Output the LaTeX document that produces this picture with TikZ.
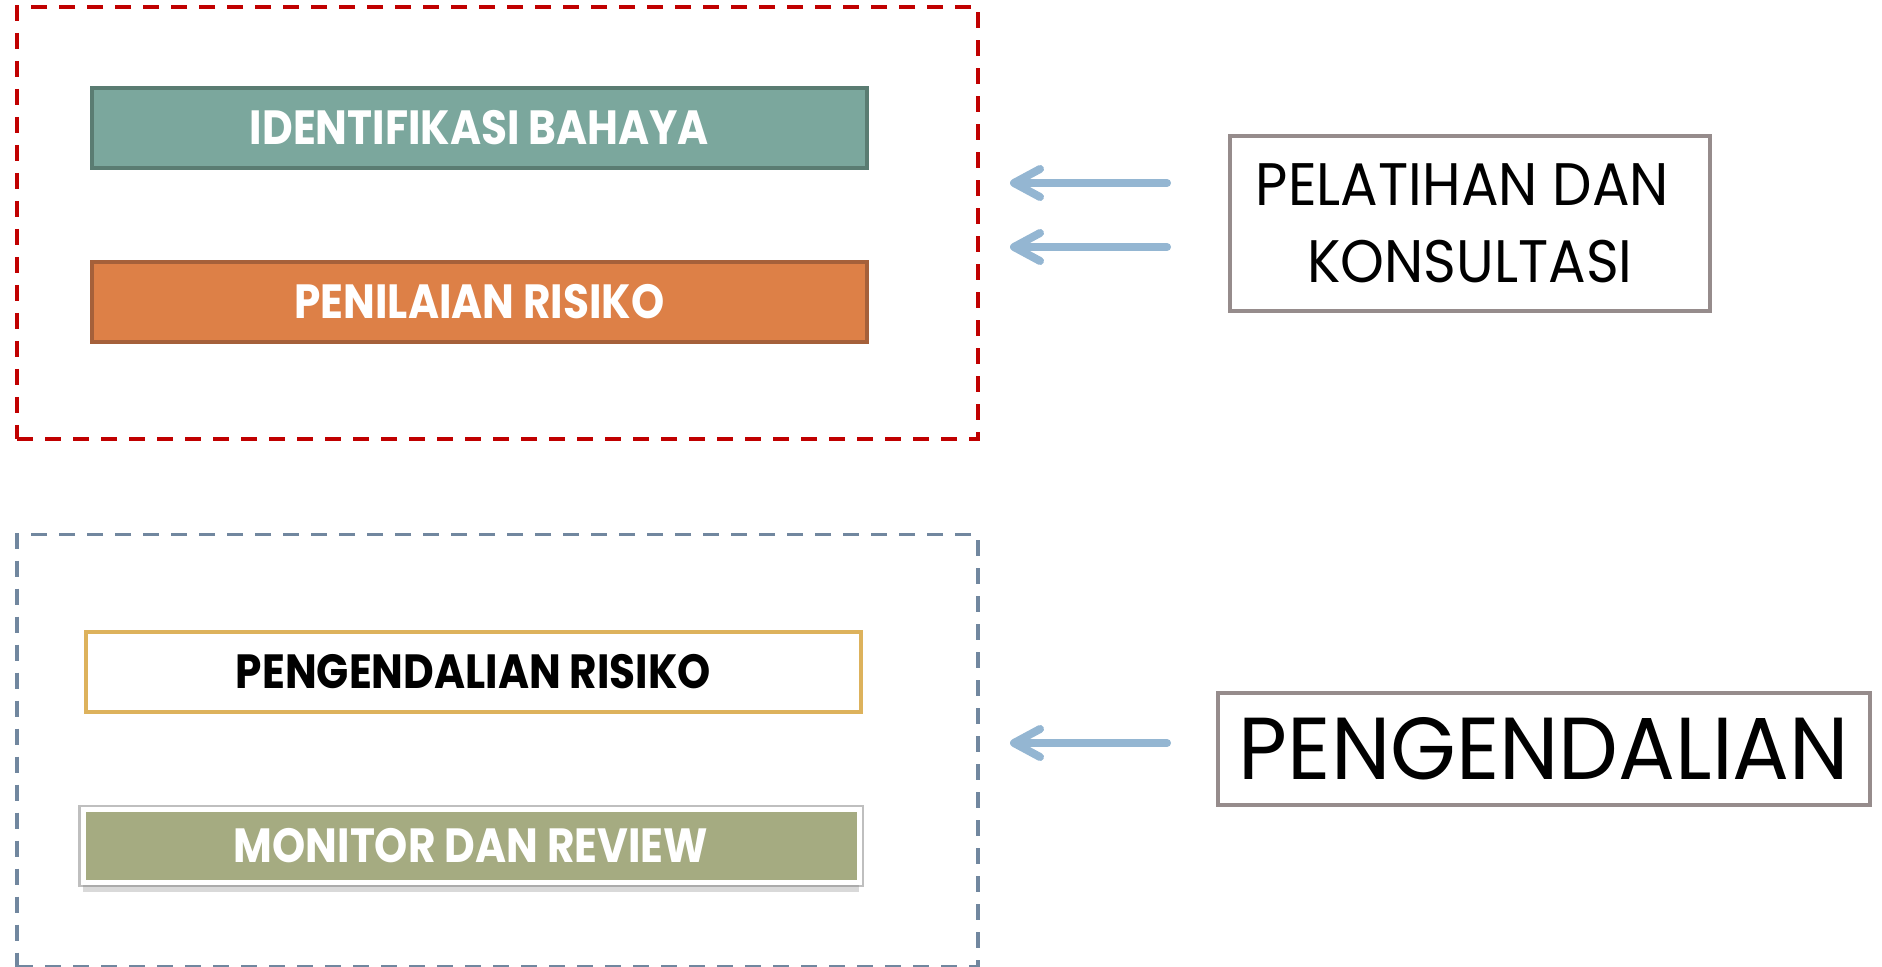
\documentclass[tikz,border=0pt]{standalone}
\usepackage{fontspec}
\setmainfont{Poppins}
\newfontfamily\twcen[FakeStretch=0.88]{Poppins}
\newfontfamily\twcenlight[FakeStretch=0.93]{Poppins}
\newfontfamily\comic[FakeStretch=0.96]{Poppins}
\usetikzlibrary{arrows.meta,shadows}
\definecolor{tealbox}{HTML}{7BA79D}
\definecolor{tealline}{HTML}{5A7C72}
\definecolor{orangebox}{HTML}{DD8047}
\definecolor{orangeline}{HTML}{A5603A}
\definecolor{goldline}{HTML}{DDB25C}
\definecolor{olivebox}{HTML}{A5AB81}
\definecolor{arrblue}{HTML}{94B6D2}
\definecolor{boxgray}{HTML}{968C8C}
\definecolor{framered}{HTML}{C00000}
\definecolor{frameblue}{HTML}{71879F}
\begin{document}
\begin{tikzpicture}[x=0.5pt,y=-0.5pt,
    frame/.style={line width=1.75pt, dash pattern=on 8pt off 6pt, minimum width=480.5pt, minimum height=216pt, inner sep=0pt},
    bar/.style={minimum width=387.5pt, minimum height=40pt, inner sep=0pt, line width=1.6pt, font=\twcen\bfseries\fontsize{24}{28}\selectfont},
    box/.style={draw=boxgray, line width=1.6pt, fill=white, inner sep=0pt, align=center},
    arr/.style={draw=arrblue, line width=4pt, line cap=round, -{Straight Barb[length=13pt,width=14pt,round]}}
]
\useasboundingbox (0,0) rectangle (1882,967);
% dashed frames
\node[frame, draw=framered] (atas) at (497.5,223) {};
\node[frame, draw=frameblue] (bawah) at (497.5,750.5) {};
% bars
\node[bar, fill=tealbox, draw=tealline, text=white] (ident) at (479.5,128) {IDENTIFIKASI BAHAYA};
\node[bar, fill=orangebox, draw=orangeline, text=white] (nilai) at (479.5,302) {PENILAIAN RISIKO};
\node[bar, fill=white, draw=goldline, text=black] (kendali) at (473.5,672) {PENGENDALIAN RISIKO};
\node[bar, minimum width=388pt, minimum height=36.5pt, fill=olivebox, draw=white, line width=2.5pt, text=white,
    preaction={draw=gray!50, line width=4.6pt},
    drop shadow={shadow xshift=0pt, shadow yshift=-4.5pt, opacity=0.3}] (monitor) at (471,846) {MONITOR DAN REVIEW};
% side boxes
\node[box, minimum width=240pt, minimum height=87.5pt, font=\twcenlight\fontsize{30}{38.5}\selectfont] (latih) at (1470,223.5) {PELATIHAN DAN\hspace*{0.25em} \\ KONSULTASI};
\node[box, minimum width=326pt, minimum height=56pt, font=\comic\fontsize{44}{50}\selectfont] (peng) at (1544,749) {PENGENDALIAN};
% arrows
\coordinate (a1) at (1167,183);
\coordinate (b1) at (1010,183);
\coordinate (a2) at (1167,247);
\coordinate (b2) at (1010,247);
\coordinate (a3) at (1167,743);
\coordinate (b3) at (1010,743);
\draw[arr] (a1) -- (b1);
\draw[arr] (a2) -- (b2);
\draw[arr] (a3) -- (b3);
\end{tikzpicture}
\end{document}
